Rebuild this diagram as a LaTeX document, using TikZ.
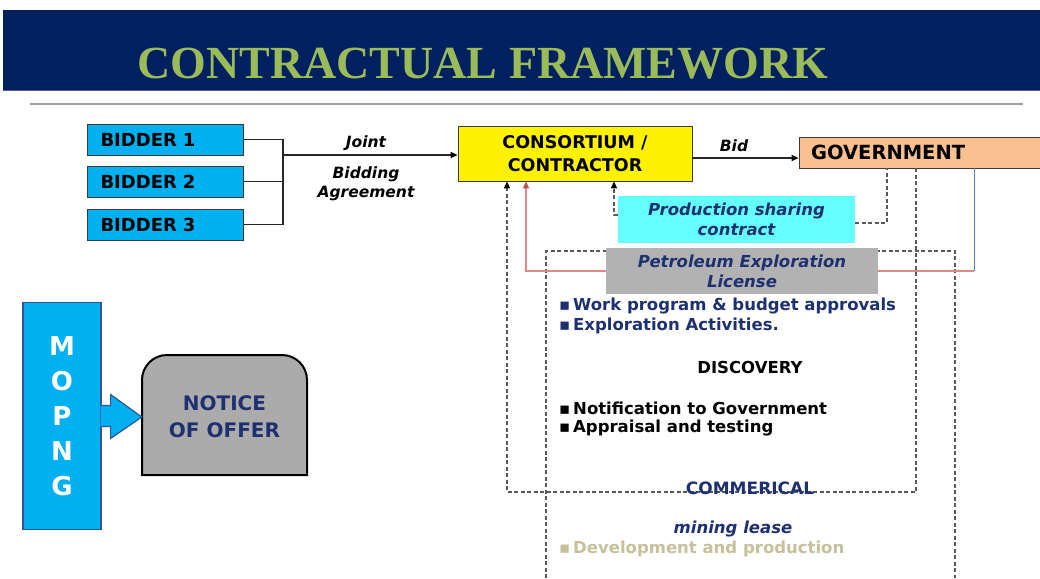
\documentclass[tikz,border=0pt]{standalone}
\usepackage{fontspec}
\setmainfont{DejaVu Sans}
\newfontfamily\titlefont{Liberation Serif}
\usetikzlibrary{arrows.meta,calc}
\definecolor{bandnavy}{HTML}{002060}
\definecolor{titlegreen}{HTML}{9BBB59}
\definecolor{bidblue}{HTML}{00B0F0}
\definecolor{pscyan}{HTML}{66FFFF}
\definecolor{pelgray}{HTML}{B2B2B2}
\definecolor{govorange}{HTML}{FAC090}
\definecolor{navytext}{HTML}{1F3070}
\definecolor{devtan}{HTML}{C8C09A}
\definecolor{redln}{HTML}{E08A88}
\definecolor{redtip}{HTML}{C0504D}
\definecolor{blueln}{HTML}{4F81BD}
\definecolor{dashgray}{HTML}{595959}
\definecolor{boxedge}{HTML}{3A3A3A}
\definecolor{mopedge}{HTML}{2F5597}
\definecolor{noticegray}{HTML}{ABABAB}
\newcommand{\bul}{\makebox[14pt][l]{▪}}
\tikzset{
  lab/.style={inner sep=0pt, font=\bfseries\itshape\fontsize{15.5}{18}\selectfont},
  bidder/.style={rectangle, fill=bidblue, draw=boxedge, line width=0.8pt,
    minimum width=156pt, minimum height=31pt, text width=130pt, inner xsep=13pt,
    inner ysep=0pt, align=left, font=\bfseries\fontsize{18}{20}\selectfont},
  consbox/.style={rectangle, fill=yellow, draw=boxedge, line width=0.8pt,
    minimum width=234pt, minimum height=55pt, inner sep=0pt, align=center,
    font=\bfseries\fontsize{17.5}{23}\selectfont},
  govbox/.style={rectangle, fill=govorange, draw=boxedge, line width=0.8pt,
    minimum width=241pt, minimum height=31pt, text width=217pt, inner xsep=12pt,
    inner ysep=0pt, align=left, font=\bfseries\fontsize{19.5}{22}\selectfont},
  infobox/.style={rectangle, inner sep=0pt, align=center, text=navytext,
    font=\bfseries\itshape\fontsize{16.5}{20}\selectfont},
  conn/.style={line width=1.1pt, draw=black!85},
  tip/.style={-{Triangle[length=7pt,width=6pt,color=black]}},
  dashl/.style={draw=dashgray, line width=1.2pt, dash pattern=on 4pt off 2.5pt},
  body/.style={inner sep=0pt, anchor=west, font=\bfseries\fontsize{16.5}{19}\selectfont},
}
\begin{document}
\begin{tikzpicture}[x=1pt,y=-1pt]
\useasboundingbox (0,0) rectangle (1040,578);
\fill[white] (0,0) rectangle (1040,578);
% title band
\fill[bandnavy] (3,10) rectangle (1040,90);
\draw[line width=0.8pt, color=blue!30!gray] (3,90) -- (1040,90);
\node[anchor=base west, inner sep=0pt, text=titlegreen,
  font=\titlefont\bfseries\fontsize{46}{50}\selectfont] (title) at (137,78) {CONTRACTUAL FRAMEWORK};
\draw[line width=2pt, color=gray!75] (30,104) -- (1023,104);

% bidders
\node[bidder] (b1) at (165.5,139.5) {BIDDER 1};
\node[bidder] (b2) at (165.5,181.5) {BIDDER 2};
\node[bidder] (b3) at (165.5,224.5) {BIDDER 3};
\coordinate (jn) at (283,155);
\draw[conn] (b1.east) -| (jn);
\draw[conn] (b3.east) -| (jn);
\draw[conn] (b2.east) -- (b2.east -| jn);
\node[consbox] (cons) at (575,153.5) {CONSORTIUM /\\CONTRACTOR};
\draw[conn,tip] (jn) -- (jn -| cons.west);
\node[lab] (ljoint) at (366,143) {Joint};
\node[lab] (lbid1) at (366,174) {Bidding};
\node[lab] (lbid2) at (366,194) {Agreement};

% government
\node[govbox] (gov) at (919.5,152.5) {GOVERNMENT};
\draw[conn,tip] ([yshift=-4.5pt]cons.east) -- ([yshift=-4.5pt]cons.east -| gov.west);
\node[lab] (lbid) at (734,146) {Bid};

% x positions
\coordinate (x507) at (507,0);
\coordinate (x526) at (526,0);
\coordinate (x546) at (546,0);
\coordinate (x614) at (614,0);
\coordinate (x887) at (887,0);
\coordinate (x916) at (916,0);
\coordinate (x955) at (955,0);
\coordinate (x974) at (974,0);
\coordinate (ybot) at (0,492);
\coordinate (ytop) at (0,251);
\coordinate (yend) at (0,578);

% frame behind the licence
\draw[dashl] (x546 |- yend) -- (x546 |- ytop) -- (x955 |- ytop) -- (x955 |- yend);

% boxes
\node[infobox, fill=pscyan, minimum width=237pt, minimum height=47pt] (psc) at (736.5,219.5) {Production sharing\\contract};
\node[infobox, fill=pelgray, minimum width=272pt, minimum height=46pt] (pel) at (742,271) {Petroleum Exploration\\License};

% connectors
\draw[dashl,tip] (gov.south -| x916) -- (x916 |- ybot) -| (cons.south -| x507);
\draw[dashl] ([yshift=-3.5pt]psc.east) -| (gov.south -| x887);
\draw[dashl,tip] ([yshift=4.5pt]psc.west) -| (cons.south -| x614);
\draw[blueln, line width=1pt] (gov.south -| x974) -- (x974 |- pel.east);
\draw[redln, line width=1.2pt] (x974 |- pel.east) -- (pel.east);
\draw[redln, line width=1.2pt, -{Triangle[length=7pt,width=6pt,color=redtip]}] (pel.west) -| (cons.south -| x526);

% body text
\node[body, text=navytext] (w1) at (559,306) {\bul Work program \& budget approvals};
\node[body, text=navytext] (w2) at (559,326) {\bul Exploration Activities.};
\node[body, anchor=center] (disc) at (750,367) {DISCOVERY};
\node[body] (n1) at (559,408) {\bul Notification to Government};
\node[body] (n2) at (559,428) {\bul Appraisal and testing};
\node[body, anchor=center, text=navytext, font=\bfseries\fontsize{17}{19}\selectfont] (comm) at (750,488) {COMMERICAL};
\node[body, anchor=center, text=navytext, font=\bfseries\itshape\fontsize{16.5}{19}\selectfont] (ml) at (733,529) {mining lease};
\node[body, text=devtan] (dev) at (559,549) {\bul Development and production};

% MOPNG
\node[rectangle, fill=bidblue, draw=mopedge, line width=1.2pt, minimum width=78pt,
  minimum height=227pt, inner sep=0pt, align=center, text=white,
  font=\bfseries\fontsize{26}{35}\selectfont] (mop) at (62,416) {M\\O\\P\\N\\G};
% notice of offer
\draw[fill=noticegray, line width=2pt] (142,475) -- (142,380) arc[start angle=180, end angle=270, radius=25]
  -- (282,355) arc[start angle=270, end angle=360, radius=25] -- (307,475) -- cycle;
\node[rectangle, minimum width=165pt, minimum height=120pt, inner sep=0pt, align=center,
  text=navytext, font=\bfseries\fontsize{20}{27}\selectfont] (notice) at (224.5,417) {NOTICE\\OF OFFER};
% block arrow
\fill[bidblue] ($(mop.east)+(-1,-10.5)$) -- ($(mop.east)+(9,-10.5)$) -- ($(mop.east)+(9,-21.5)$)
  -- (notice.west) -- ($(mop.east)+(9,22.5)$) -- ($(mop.east)+(9,10.5)$) -- ($(mop.east)+(-1,10.5)$) -- cycle;
\draw[mopedge, line width=1.2pt, line join=miter] ($(mop.east)+(0,-10.5)$) -- ($(mop.east)+(9,-10.5)$) -- ($(mop.east)+(9,-21.5)$)
  -- (notice.west) -- ($(mop.east)+(9,22.5)$) -- ($(mop.east)+(9,10.5)$) -- ($(mop.east)+(0,10.5)$);
\end{tikzpicture}
\end{document}
